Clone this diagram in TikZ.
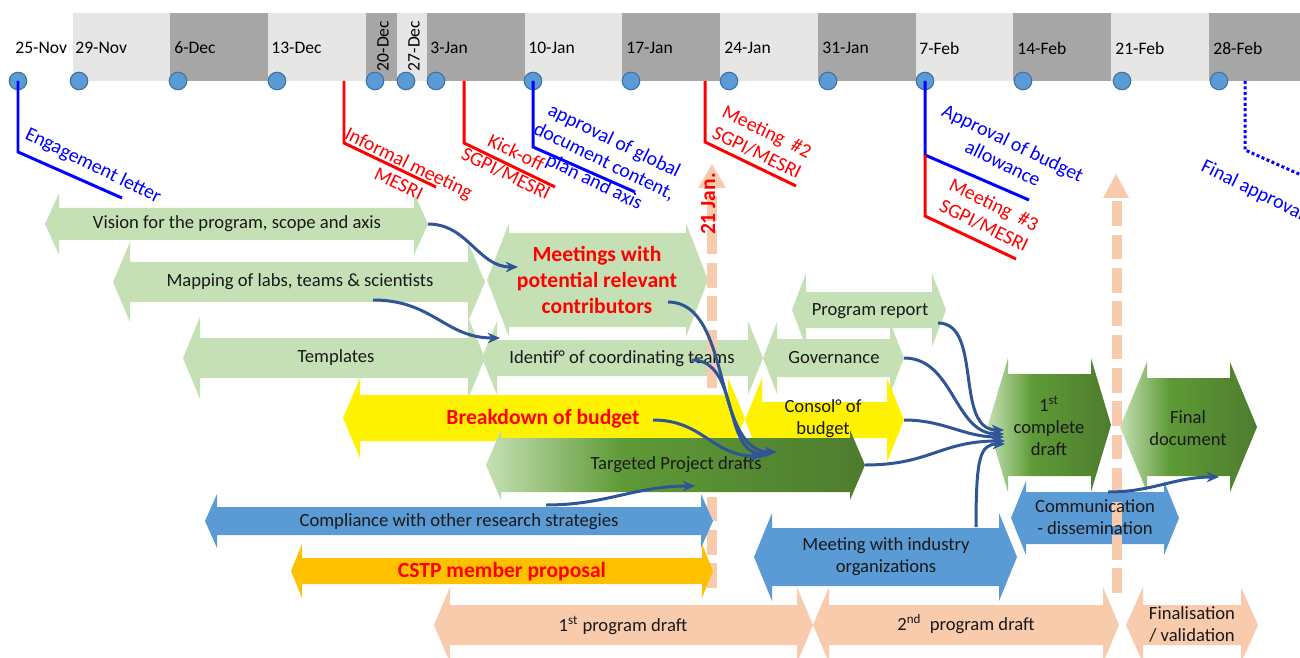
\documentclass[tikz,border=0pt]{standalone}
\usepackage{fontspec}
\setmainfont{Carlito}
\usetikzlibrary{arrows.meta}

\definecolor{bandlight}{HTML}{E6E6E6}
\definecolor{banddark}{HTML}{A6A6A6}
\definecolor{dotfill}{HTML}{5B9BD5}
\definecolor{dotline}{HTML}{41719C}
\definecolor{palegreen}{HTML}{C5E0B4}
\definecolor{midgreen}{HTML}{5E9A36}
\definecolor{darkgreen}{HTML}{4E7C2F}
\definecolor{skyblue}{HTML}{5B9BD5}
\definecolor{amber}{HTML}{FFC000}
\definecolor{peach}{HTML}{F8CBAD}
\definecolor{linkblue}{HTML}{2F5597}

\pgfdeclarehorizontalshading{greenfade}{100bp}{color(0bp)=(palegreen); color(25bp)=(palegreen); color(43bp)=(midgreen); color(75bp)=(darkgreen); color(100bp)=(darkgreen)}

% left tip x : right tip x : mid y , body half : head half : head length
\def\ganttarrow[#1](#2)(#3:#4:#5)(#6:#7:#8){\path[#1] (#3,#5) -- (#3+#8,#5-#7) -- (#3+#8,#5-#6) -- (#4-#8,#5-#6) -- (#4-#8,#5-#7) -- (#4,#5) -- (#4-#8,#5+#7) -- (#4-#8,#5+#6) -- (#3+#8,#5+#6) -- (#3+#8,#5+#7) -- cycle;
	\coordinate (#2-w) at (#3,#5);
	\coordinate (#2-e) at (#4,#5);}

\tikzset{
	dot/.style={circle, draw=dotline, fill=dotfill, line width=0.6pt, minimum size=10pt, inner sep=0pt},
	datelbl/.style={anchor=west, inner sep=0pt, font=\fontsize{10}{12}\selectfont},
	mileline/.style={line width=1.7pt},
	milelbl/.style={rotate=-26, align=center, inner sep=0pt, font=\fontsize{11.3}{13}\selectfont},
	bartext/.style={align=center, inner sep=0pt, text=black!90, font=\fontsize{10.6}{12.5}\selectfont},
	redtext/.style={align=center, inner sep=0pt, text=red, font=\bfseries\fontsize{12.3}{15}\selectfont},
	greenshade/.style={shading=greenfade},
	peachdash/.style={peach, line width=5.7pt, dash pattern=on 14pt off 5pt},
	link/.style={linkblue, line width=1.7pt, -{Stealth[length=7pt,width=6pt]}}
}

\begin{document}
\begin{tikzpicture}[x=0.02cm, y=-0.02cm]
	%%%%% FRAME %%%%%
	\useasboundingbox (0,0) rectangle (1300,658);
	\clip (0,0) rectangle (1300,658);
	
	%%%%% TIME BAND %%%%%
	\foreach \xa/\xb/\tone in {73/170/bandlight, 170/268/banddark, 268/366/bandlight, 366/397/banddark, 397/427/bandlight, 427/525/banddark, 525/622/bandlight, 622/720/banddark, 720/818/bandlight, 818/916/banddark, 916/1013/bandlight, 1013/1111/banddark, 1111/1209/bandlight, 1209/1300/banddark}
		\fill[\tone] (\xa,13) rectangle (\xb,81);
	
	\foreach \d/\x in {25-Nov/15, 29-Nov/75, 6-Dec/174, 13-Dec/271, 3-Jan/430, 10-Jan/528, 17-Jan/626, 24-Jan/724, 31-Jan/822, 7-Feb/919, 14-Feb/1017, 21-Feb/1115, 28-Feb/1213}
		\node[datelbl] (lbl-\d) at (\x,48) {\d};
	\node[datelbl, anchor=center, rotate=90] (lbl-20-Dec) at (383,46) {20-Dec};
	\node[datelbl, anchor=center, rotate=90] (lbl-27-Dec) at (414,46) {27-Dec};
	
	\foreach \n/\x in {25nov/18, 29nov/79, 6dec/178, 13dec/277, 20dec/375, 27dec/406, 3jan/436, 10jan/533, 17jan/631, 24jan/729, 31jan/828, 7feb/925, 14feb/1023, 21feb/1122, 28feb/1219}
		\node[dot] (c\n) at (\x,81) {};
	
	%%%%% MILESTONES %%%%%
	\coordinate (informal-root) at (344,81);
	\coordinate (kickoff-root) at (464,81);
	\coordinate (meet2-root) at (705,81);
	\coordinate (final-root) at (1245,81);
	
	\draw[mileline, blue] (c25nov.center) -- ++(0,71) -- ++(104,46);
	\draw[mileline, red] (informal-root) -- ++(0,62) -- ++(92,44);
	\draw[mileline, red] (kickoff-root) -- ++(0,62) -- ++(91,44);
	\draw[mileline, blue] (c10jan.center) -- ++(0,66) -- ++(102,45);
	\draw[mileline, red] (meet2-root) -- ++(0,61) -- ++(91,44);
	\draw[mileline, blue] (c7feb.center) -- ++(0,74) -- ++(104,45);
	\draw[mileline, red] (c7feb.center) ++(0,74) -- ++(0,61) -- ++(91,43);
	\draw[mileline, blue, dash pattern=on 1.7pt off 1.4pt] (final-root) -- ++(0,69) -- ++(110,49);
	
	\node[milelbl, text=blue] (eng) at (93,166) {Engagement letter};
	\node[milelbl, text=red] (informal) at (404,173) {Informal meeting\\MESRI};
	\node[milelbl, text=red] (kickoff) at (511,163) {Kick-off\\SGPI/MESRI};
	\node[milelbl, text=blue] (approvglobal) at (604,162) {approval of global\\document content,\\plan and axis};
	\node[milelbl, text=red] (meet2) at (762,142) {Meeting\ \ \#2\\SGPI/MESRI};
	\node[milelbl, text=blue] (approvbudget) at (1008,153) {Approval of budget\\allowance};
	\node[milelbl, text=red] (meet3) at (989,215) {Meeting\ \ \#3\\SGPI/MESRI};
	\node[milelbl, text=blue, anchor=west] (finalapprov) at (1202,166) {Final approval};
	
	%%%%% GANTT ROWS %%%%%
	\ganttarrow[fill=palegreen](vision)(45:428:224)(16:31:14)
	\ganttarrow[fill=palegreen](mapping)(113:485:282)(20:40:17)
	\ganttarrow[fill=palegreen](meetings)(487:708:280)(47:57:22)
	\ganttarrow[fill=palegreen](templates)(183:485:358)(20:41:17)
	\ganttarrow[fill=palegreen](identif)(482:763:358)(18:37:15)
	\ganttarrow[fill=palegreen](report)(792:946:310)(18:37:14)
	\ganttarrow[fill=palegreen](governance)(763:904:358)(19:36:14)
	
	% 21 Jan. marker
	\draw[peachdash] (712,588) -- (712,186);
	\fill[peach] (712,164) -- (726,188) -- (698,188) -- cycle;
	
	\ganttarrow[fill=yellow](breakdown)(343:745:418)(23:40:17)
	\ganttarrow[fill=yellow](consol)(745:904:420)(18:42:17)
	\ganttarrow[greenshade](targeted)(486:865:465)(27:35:15)
	\ganttarrow[fill=skyblue](compliance)(205:713:521)(14:27:12)
	\ganttarrow[fill=amber](cstp)(291:713:571)(13:27:11)
	\ganttarrow[fill=skyblue](industry)(754:1017:557)(29:44:18)
	\ganttarrow[greenshade](complete)(988:1111:425)(51:67:20)
	\ganttarrow[greenshade](finaldoc)(1120:1257:427)(49:65:27)
	\ganttarrow[fill=skyblue](commun)(1011:1179:518)(26:37:15)
	\ganttarrow[fill=peach](draft1)(434:813:625)(20:38:16)
	\ganttarrow[fill=peach](draft2)(813:1119:625)(20:38:16)
	\ganttarrow[fill=peach](finalis)(1126:1258:625)(20:38:17)
	
	% end of drafting marker
	\draw[peachdash] (1117,593) -- (1117,196);
	\fill[peach] (1116,174) -- (1129,198) -- (1103,198) -- cycle;
	
	%%%%% LABELS %%%%%
	\node[redtext, rotate=90] (jan21) at (708,204) {21 Jan.};
	
	\node[bartext] (vision-txt) at (237,224) {Vision for the program, scope and axis};
	\node[bartext] (mapping-txt) at (300,282) {Mapping of labs, teams \& scientists};
	\node[redtext] (meetings-txt) at (597,280) {Meetings with\\potential relevant\\contributors};
	\node[bartext] (templates-txt) at (336,358) {Templates};
	\node[bartext] (identif-txt) at (622,359) {Identif° of coordinating teams};
	\node[bartext] (report-txt) at (870,311) {Program report};
	\node[bartext] (governance-txt) at (834,358) {Governance};
	\node[redtext] (breakdown-txt) at (543,419) {Breakdown of budget};
	\node[bartext] (consol-txt) at (823,419) {Consol° of\\budget};
	\node[bartext] (targeted-txt) at (676,465) {Targeted Project drafts};
	\node[bartext] (compliance-txt) at (459,522) {Compliance with other research strategies};
	\node[redtext] (cstp-txt) at (502,572) {CSTP member proposal};
	\node[bartext] (industry-txt) at (886,557) {Meeting with industry\\organizations};
	\node[bartext] (complete-txt) at (1049,426) {1\textsuperscript{st}\\complete\\draft};
	\node[bartext] (finaldoc-txt) at (1188,428) {Final\\document};
	\node[bartext] (commun-txt) at (1095,517) {Communication\\- dissemination};
	\node[bartext] (draft1-txt) at (623,625) {1\textsuperscript{st} program draft};
	\node[bartext] (draft2-txt) at (966,624) {2\textsuperscript{nd}\ \ program draft};
	\node[bartext] (finalis-txt) at (1192,624) {Finalisation\\/ validation};
	
	%%%%% LINKS %%%%%
	\coordinate (mapping-out) at (373,300);
	\coordinate (meetings-out) at (668,302);
	\coordinate (identif-out) at (692,360);
	\coordinate (breakdown-out) at (653,420);
	\coordinate (compliance-out) at (546,505);
	\coordinate (report-out) at (938,323);
	\coordinate (industry-out) at (976,527);
	\coordinate (commun-out) at (1108,492);
	
	\coordinate (meetings-in) at (518,267);
	\coordinate (identif-in) at (500,338);
	\coordinate (targeted-in1) at (777,452);
	\coordinate (targeted-in2) at (770,454);
	\coordinate (targeted-in3) at (762,456);
	\coordinate (targeted-in4) at (695,486);
	\coordinate (complete-in1) at (1004,430);
	\coordinate (complete-in2) at (1004,434);
	\coordinate (complete-in3) at (1004,437);
	\coordinate (complete-in4) at (1005,441);
	\coordinate (complete-in5) at (1005,444);
	\coordinate (finaldoc-in) at (1219,477);
	
	\draw[link] (vision-e) .. controls +(40,0) and +(-40,0) .. (meetings-in);
	\draw[link] (mapping-out) .. controls +(60,0) and +(-55,0) .. (identif-in);
	\draw[link] (meetings-out) .. controls +(65,0) and +(-65,0) .. (targeted-in1);
	\draw[link] (identif-out) .. controls +(48,0) and +(-48,0) .. (targeted-in2);
	\draw[link] (breakdown-out) .. controls +(50,0) and +(-50,0) .. (targeted-in3);
	\draw[link] (compliance-out) .. controls +(60,0) and +(-60,0) .. (targeted-in4);
	\draw[link] (report-out) .. controls +(45,0) and +(-50,0) .. (complete-in1);
	\draw[link] (governance-e) .. controls +(50,0) and +(-50,0) .. (complete-in2);
	\draw[link] (consol-e) .. controls +(40,0) and +(-40,0) .. (complete-in3);
	\draw[link] (targeted-e) .. controls +(65,0) and +(-65,0) .. (complete-in4);
	\draw[link] (industry-out) .. controls +(0,-70) and +(-25,0) .. (complete-in5);
	\draw[link] (commun-out) .. controls +(45,0) and +(-45,0) .. (finaldoc-in);
\end{tikzpicture}
\end{document}
